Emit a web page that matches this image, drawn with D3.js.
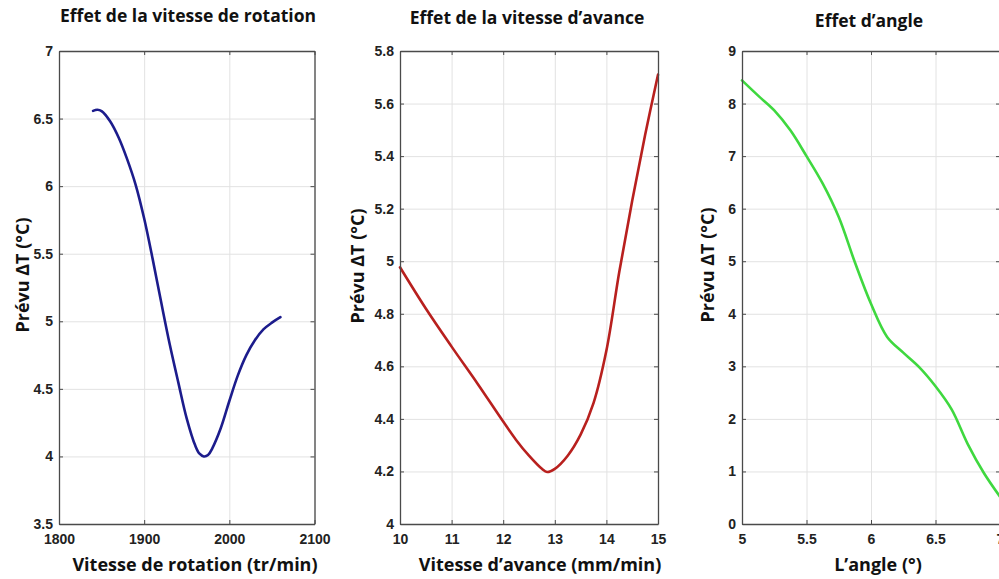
<!DOCTYPE html>
<html><head><meta charset="utf-8">
<script src="https://cdn.jsdelivr.net/npm/d3@7/dist/d3.min.js"></script>
<style>
html,body{margin:0;padding:0;background:#fff;overflow:hidden}
svg{display:block}
.tick text{font-family:"Liberation Sans",Arial,sans-serif;font-weight:bold;font-size:14px;fill:#222}
.ttl{font-family:"Open Sans",sans-serif;font-weight:bold;font-size:17.5px;fill:#111}
.lab{font-family:"Open Sans",sans-serif;font-weight:bold;font-size:18px;fill:#111}
</style></head>
<body>
<svg id="chart" width="999" height="579"></svg>
<script>
// ---- Data ----
const titles = ["Effet de la vitesse de rotation", "Effet de la vitesse d\u2019avance", "Effet d\u2019angle"];
const xLabels = ["Vitesse de rotation (tr/min)", "Vitesse d\u2019avance (mm/min)", "L\u2019angle (\u00b0)"];
const yLabel = "Pr\u00e9vu \u0394T (\u00b0C)";

const rotX = [1840,1845,1850,1860,1870,1880,1890,1900,1910,1920,1930,1940,1950,1960,1965,1970,1975,1980,1990,2000,2010,2020,2030,2040,2050,2060];
const rotY = [6.557,6.565,6.555,6.48,6.36,6.20,6.01,5.76,5.46,5.14,4.83,4.55,4.28,4.08,4.02,4.00,4.01,4.06,4.21,4.41,4.60,4.75,4.86,4.94,4.99,5.03];

const avX = [10.0,10.5,11.0,11.5,12.0,12.25,12.5,12.75,12.85,13.0,13.25,13.5,13.75,14.0,14.25,14.5,14.75,15.0];
const avY = [4.977,4.82,4.675,4.535,4.39,4.32,4.26,4.21,4.198,4.21,4.26,4.34,4.46,4.66,4.96,5.23,5.48,5.71];

const angX = [5.0,5.125,5.25,5.375,5.5,5.625,5.75,5.875,6.0,6.125,6.25,6.375,6.5,6.625,6.75,6.875,7.0];
const angY = [8.44,8.15,7.87,7.49,7.0,6.48,5.84,4.98,4.19,3.56,3.26,2.98,2.62,2.18,1.52,0.97,0.52];

const xTicks = [[1800,1900,2000,2100],[10,11,12,13,14,15],[5,5.5,6,6.5,7]];
const yTicks = [[3.5,4,4.5,5,5.5,6,6.5,7],[4,4.2,4.4,4.6,4.8,5,5.2,5.4,5.6,5.8],[0,1,2,3,4,5,6,7,8,9]];
const xDomains = [[1800,2100],[10,15],[5,7]];
const yDomains = [[3.5,7],[4,5.8],[0,9]];
const colors = ["#1c1c8c","#b8201e","#3fd83f"];

// ---- Layout ----
const panels = [
  {l:59, r:314.5, xs:rotX, ys:rotY, tx:188, lx:195, yl:29, ylc:275, tb:22},
  {l:400, r:658, xs:avX, ys:avY, tx:527, lx:540, yl:364, ylc:266, tb:24},
  {l:742, r:1000, xs:angX, ys:angY, tx:869, lx:878, yl:714, ylc:265, tb:27}
];
const plotTop = 51, plotBottom = 524;
const svg = d3.select("#chart");

panels.forEach((p,i)=>{
  const x = d3.scaleLinear().domain(xDomains[i]).range([p.l,p.r]);
  const y = d3.scaleLinear().domain(yDomains[i]).range([plotBottom,plotTop]);
  const g = svg.append("g");
  const W = p.r-p.l, H = plotBottom-plotTop;

  // grid
  g.append("g").attr("transform",`translate(0,${plotBottom})`)
    .call(d3.axisBottom(x).tickValues(xTicks[i]).tickSize(-H).tickFormat(""))
    .call(a=>{a.select(".domain").remove();a.selectAll("line").attr("stroke","#e2e2e2").attr("stroke-width",1);});
  g.append("g").attr("transform",`translate(${p.l},0)`)
    .call(d3.axisLeft(y).tickValues(yTicks[i]).tickSize(-W).tickFormat(""))
    .call(a=>{a.select(".domain").remove();a.selectAll("line").attr("stroke","#e2e2e2").attr("stroke-width",1);});

  // curve
  const pts = p.xs.map((v,k)=>[v,p.ys[k]]);
  g.append("path").datum(pts)
    .attr("fill","none").attr("stroke",colors[i]).attr("stroke-width",2.6)
    .attr("stroke-linecap","round").attr("stroke-linejoin","round")
    .attr("d", d3.line().x(d=>x(d[0])).y(d=>y(d[1])).curve(d3.curveCatmullRom.alpha(0.5)));

  const frame = "#4a4a4a";
  const styleAx = a=>{a.select(".domain").attr("stroke",frame).attr("stroke-width",1.3);a.selectAll("line").attr("stroke",frame);};
  // axes (inward ticks)
  g.append("g").attr("transform",`translate(0,${plotBottom})`)
    .call(d3.axisBottom(x).tickValues(xTicks[i]).tickSize(-4).tickSizeOuter(0).tickPadding(10).tickFormat(d3.format("")))
    .call(styleAx);
  g.append("g").attr("transform",`translate(${p.l},0)`)
    .call(d3.axisLeft(y).tickValues(yTicks[i]).tickSize(-4).tickSizeOuter(0).tickPadding(6).tickFormat(d3.format("")))
    .call(styleAx);
  g.append("g").attr("transform",`translate(0,${plotTop})`)
    .call(d3.axisTop(x).tickValues(xTicks[i]).tickSize(-4).tickSizeOuter(0).tickFormat(""))
    .call(styleAx);
  g.append("g").attr("transform",`translate(${p.r},0)`)
    .call(d3.axisRight(y).tickValues(yTicks[i]).tickSize(-4).tickSizeOuter(0).tickFormat(""))
    .call(styleAx);

  // texts
  svg.append("text").attr("class","ttl").attr("x",p.tx).attr("y",p.tb).attr("text-anchor","middle").text(titles[i]);
  svg.append("text").attr("class","lab").attr("x",p.lx).attr("y",571).attr("text-anchor","middle").text(xLabels[i]);
  svg.append("text").attr("class","lab").attr("text-anchor","middle")
    .attr("transform",`translate(${p.yl},${p.ylc}) rotate(-90)`).text(yLabel);
});
</script>
</body></html>
